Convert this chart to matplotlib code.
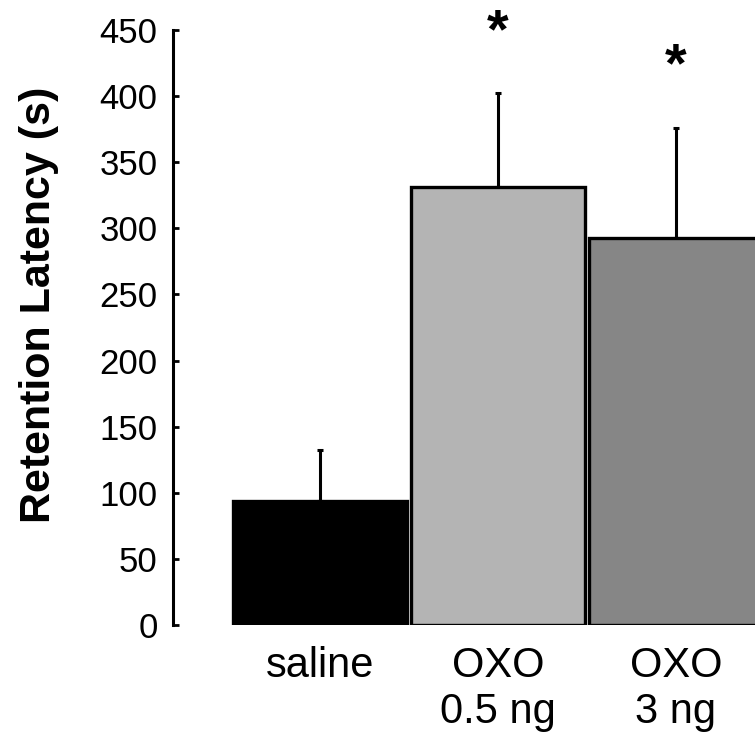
import matplotlib
matplotlib.use('Agg')
import matplotlib.pyplot as plt
import numpy as np

# Retention latency per group (mean and SEM, seconds)
groups = ['saline', 'OXO\n0.5 ng', 'OXO\n3 ng']
means = [94, 331, 293]
sems = [38, 71, 83]
colors = ['#000000', '#b4b4b4', '#868686']
signif = [False, True, True]

plt.rcParams['font.family'] = ['Liberation Sans', 'DejaVu Sans']

fig = plt.figure(figsize=(7.55, 7.43), dpi=100)
ax = fig.add_axes([173 / 755, 118 / 743, 582 / 755, 595 / 743])

x = np.arange(len(groups))
ax.bar(x, means, width=0.975, color=colors, edgecolor='black',
       linewidth=2.4, zorder=2)
ax.errorbar(x, means, yerr=[np.zeros(len(sems)), sems], fmt='none',
            ecolor='black', elinewidth=2.2, capsize=2.5, capthick=2.2,
            zorder=1)

# significance stars above the error bars
for xi, m, s, sig in zip(x, means, sems, signif):
    if sig:
        ax.text(xi, m + s + 35, '*', ha='center', va='baseline',
                fontsize=40, fontweight='bold', clip_on=False)

ax.set_xlim(-0.826, 2.444)
ax.set_ylim(0, 450)
ax.set_yticks(np.arange(0, 451, 50))
ax.set_xticks(x)
ax.set_xticklabels(groups, fontsize=30)
ax.tick_params(axis='x', length=0, pad=15)
ax.tick_params(axis='y', direction='in', length=4, width=2, pad=11,
               labelsize=25)

for side in ['top', 'right', 'bottom']:
    ax.spines[side].set_visible(False)
ax.spines['left'].set_linewidth(2.2)

ax.set_ylabel('Retention Latency (s)', fontsize=31, fontweight='bold')
ax.yaxis.set_label_coords(-0.196, 0.538)

fig.savefig('out.png', dpi=100)
